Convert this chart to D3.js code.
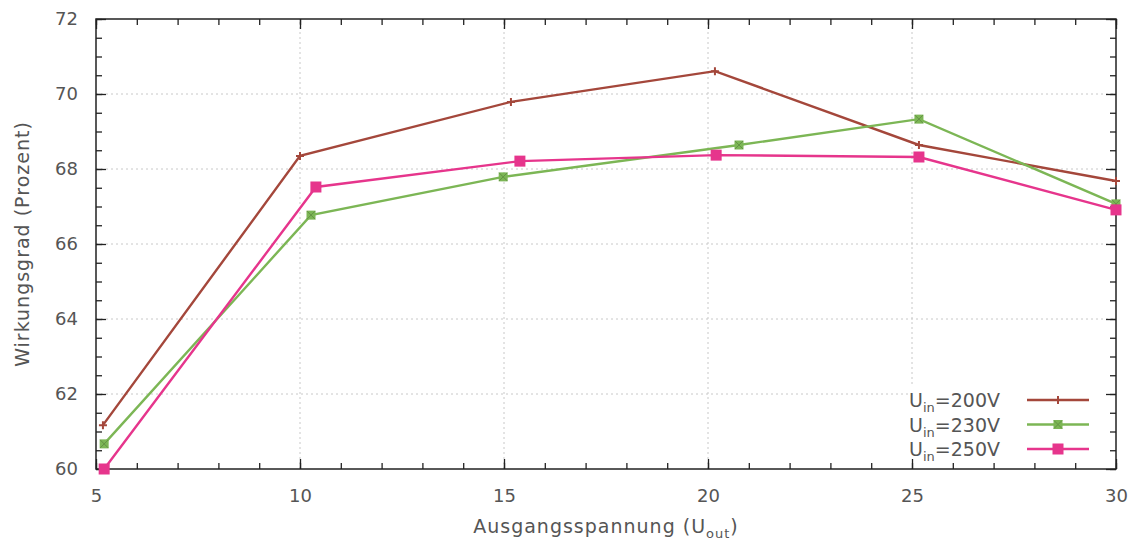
<!DOCTYPE html>
<html>
<head>
<meta charset="utf-8">
<script src="https://cdn.jsdelivr.net/npm/d3@7"></script>
<style>
  html, body { margin: 0; padding: 0; background: #fff; }
  svg text { font-family: "DejaVu Sans", sans-serif; fill: #555; }
</style>
</head>
<body>
<svg id="chart" width="1135" height="544"></svg>
<script>
// Efficiency vs. output voltage for three input voltages
const seriesNames = ["200", "230", "250"];
const x200 = [5.17, 10.0, 15.17, 20.17, 25.17, 30.0];
const y200 = [61.17, 68.35, 69.79, 70.61, 68.64, 67.68];
const x230 = [5.2, 10.27, 14.98, 20.76, 25.17, 30.0];
const y230 = [60.67, 66.77, 67.79, 68.64, 69.33, 67.07];
const x250 = [5.2, 10.39, 15.39, 20.2, 25.17, 30.0];
const y250 = [60.0, 67.52, 68.21, 68.37, 68.32, 66.91];
const xTicks = [5, 10, 15, 20, 25, 30];
const yTicks = [60, 62, 64, 66, 68, 70, 72];

const colors = ["#a4473b", "#7cb655", "#e6358c"];
const markers = ["plus", "boxx", "square"];

const margin = { left: 96, right: 19, top: 19, bottom: 75 };
const W = 1135, H = 544;
const svg = d3.select("#chart");

const x = d3.scaleLinear().domain([5, 30]).range([margin.left, W - margin.right]);
const y = d3.scaleLinear().domain([60, 72]).range([H - margin.bottom, margin.top]);
const x0 = x.range()[0], x1 = x.range()[1], y0 = y.range()[0], y1 = y.range()[1];

// dotted grid at major ticks
const grid = svg.append("g").attr("stroke", "#c8c8c8").attr("stroke-width", 1).attr("stroke-dasharray", "2,3");
xTicks.slice(1, -1).forEach(v => grid.append("line").attr("x1", x(v)).attr("x2", x(v)).attr("y1", y0).attr("y2", y1));
yTicks.slice(1, -1).forEach(v => grid.append("line").attr("x1", x0).attr("x2", x1).attr("y1", y(v)).attr("y2", y(v)));

// legend background hides the grid
const legX = 908, legY = 384;
svg.append("rect").attr("x", legX).attr("y", legY).attr("width", x1 - legX - 1).attr("height", y0 - legY - 1).attr("fill", "#fff");

// axes with inward ticks, mirrored on top and right
const minorX = d3.range(5, 30.01, 1);
const minorY = d3.range(60, 72.01, 0.5);
function addAxis(axisFn, scale, translate, ticks, size, labels) {
  const g = svg.append("g").attr("transform", translate)
    .call(axisFn(scale).tickValues(ticks).tickSize(size).tickSizeOuter(0).tickFormat(labels ? d3.format("d") : ""));
  g.select(".domain").remove();
  g.selectAll(".tick line").attr("stroke", "#222").attr("stroke-width", 1.3);
  return g;
}
// minor ticks
addAxis(d3.axisBottom, x, `translate(0,${y0})`, minorX, -6, false);
addAxis(d3.axisTop, x, `translate(0,${y1})`, minorX, -6, false);
addAxis(d3.axisLeft, y, `translate(${x0},0)`, minorY, -6, false);
addAxis(d3.axisRight, y, `translate(${x1},0)`, minorY, -6, false);
// major ticks with labels
const gx = addAxis(d3.axisBottom, x, `translate(0,${y0})`, xTicks, -10, true);
gx.selectAll(".tick text").attr("y", 20).attr("dy", "0.71em").attr("font-size", 18).attr("fill", "#555").attr("font-family", "DejaVu Sans");
addAxis(d3.axisTop, x, `translate(0,${y1})`, xTicks, -10, false);
const gy = addAxis(d3.axisLeft, y, `translate(${x0},0)`, yTicks, -10, true);
gy.selectAll(".tick text").attr("x", -18).attr("font-size", 18).attr("fill", "#555").attr("font-family", "DejaVu Sans");
addAxis(d3.axisRight, y, `translate(${x1},0)`, yTicks, -10, false);

svg.append("rect").attr("x", x0).attr("y", y1).attr("width", x1 - x0).attr("height", y0 - y1)
  .attr("fill", "none").attr("stroke", "#222").attr("stroke-width", 1.5);

// axis titles
const xt = svg.append("text").attr("x", (x0 + x1) / 2).attr("y", 533).attr("text-anchor", "middle")
  .attr("font-size", 19).attr("letter-spacing", 1);
xt.append("tspan").text("Ausgangsspannung (U");
xt.append("tspan").attr("font-size", 13).attr("dy", 5).text("out");
xt.append("tspan").attr("dy", -5).text(")");
svg.append("text").attr("transform", `translate(29,${(y0 + y1) / 2}) rotate(-90)`).attr("text-anchor", "middle")
  .attr("font-size", 19).attr("letter-spacing", 1).text("Wirkungsgrad (Prozent)");

function drawMarker(g, type, cx, cy, color) {
  if (type === "plus") {
    g.append("path").attr("d", `M${cx - 4},${cy}H${cx + 4}M${cx},${cy - 4}V${cy + 4}`)
      .attr("stroke", color).attr("stroke-width", 2);
  } else if (type === "boxx") {
    g.append("rect").attr("x", cx - 4.5).attr("y", cy - 4.5).attr("width", 9).attr("height", 9).attr("fill", color);
    g.append("path").attr("d", `M${cx - 4},${cy - 4}L${cx + 4},${cy + 4}M${cx - 4},${cy + 4}L${cx + 4},${cy - 4}`)
      .attr("stroke", d3.color(color).darker(0.6)).attr("stroke-width", 1);
  } else {
    g.append("rect").attr("x", cx - 5.5).attr("y", cy - 5.5).attr("width", 11).attr("height", 11).attr("fill", color);
  }
}

const xs = [x200, x230, x250], ys = [y200, y230, y250];
const line = d3.line().x(d => x(d[0])).y(d => y(d[1]));
seriesNames.forEach((name, i) => {
  const pts = xs[i].map((v, j) => [v, ys[i][j]]);
  const g = svg.append("g");
  g.append("path").datum(pts).attr("d", line).attr("fill", "none").attr("stroke", colors[i]).attr("stroke-width", 2.4);
  pts.forEach(p => drawMarker(g, markers[i], x(p[0]), y(p[1]), colors[i]));

  // legend entry
  const ly = 400 + i * 24.5;
  const t = svg.append("text").attr("x", 1000).attr("y", ly + 7).attr("text-anchor", "end").attr("font-size", 19);
  t.append("tspan").text("U");
  t.append("tspan").attr("font-size", 13).attr("dy", 5).text("in");
  t.append("tspan").attr("dy", -5).text(`=${name}V`);
  g.append("line").attr("x1", 1027).attr("x2", 1089).attr("y1", ly).attr("y2", ly).attr("stroke", colors[i]).attr("stroke-width", 2.4);
  drawMarker(g, markers[i], 1058, ly, colors[i]);
});
</script>
</body>
</html>
